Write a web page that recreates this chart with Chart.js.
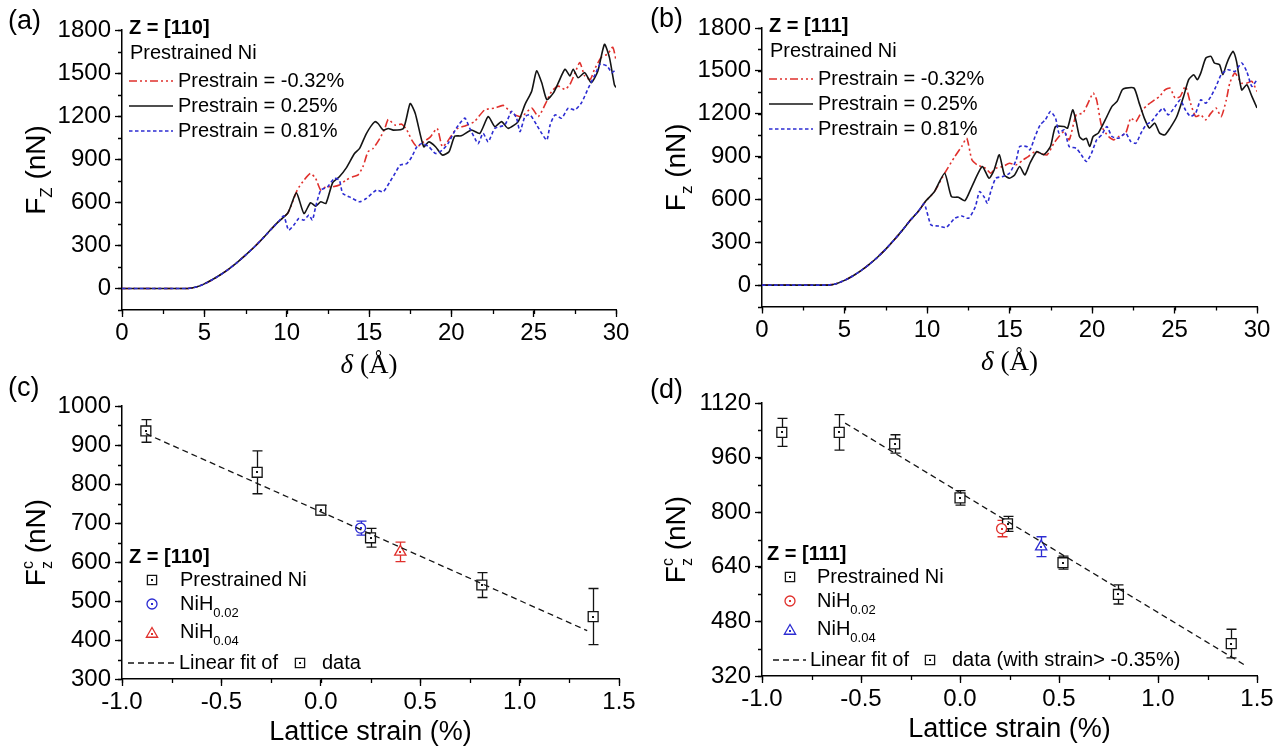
<!DOCTYPE html>
<html>
<head>
<meta charset="utf-8">
<script src="https://cdn.jsdelivr.net/npm/chart.js@4.4.1/dist/chart.umd.min.js"></script>
<style>
  body { margin: 0; background: #fff; width: 1286px; height: 752px; overflow: hidden; position: relative; }
  canvas { position: absolute; }
</style>
</head>
<body>
<canvas id="ca" width="643" height="390" style="left:0;top:0"></canvas>
<canvas id="cb" width="643" height="390" style="left:643px;top:0"></canvas>
<canvas id="cc" width="643" height="382" style="left:0;top:370px"></canvas>
<canvas id="cd" width="643" height="382" style="left:643px;top:370px"></canvas>
<script>
// ---- data: panel (a), Z = [110] ----
const prestrains = ['-0.32%', '0.25%', '0.81%'];

const rampXa = [0, 1, 2, 3, 4, 4.5, 5, 5.5, 6, 6.5, 7, 7.5, 8, 8.5, 9, 9.5];
const rampYa = [0, 0, 0, 0, 0, 10, 32, 62, 97, 137, 182, 232, 285, 343, 405, 465];

const redXa = [10.08, 10.64, 11.05, 11.45, 11.76, 12.07, 12.38, 12.79, 13.2, 13.6, 14.02, 14.32, 14.63, 14.94, 15.25, 15.66, 15.96, 16.17, 16.58, 16.99, 17.3, 17.6, 17.91, 18.32, 18.73, 19.14, 19.45, 19.75, 20.16, 20.4, 20.9, 21.4, 22.03, 22.64, 23.15, 23.56, 23.86, 24.27, 24.88, 25.28, 25.69, 26.1, 26.5, 26.9, 27.2, 27.52, 27.8, 28.1, 28.43, 28.7, 29.1, 29.5, 29.8, 30.0];
const redYa = [527, 685, 754, 801, 766, 685, 708, 708, 720, 754, 778, 789, 847, 952, 975, 1045, 1114, 1177, 1138, 1144, 1103, 1033, 987, 1021, 1056, 1114, 987, 1021, 1091, 1115, 1135, 1162, 1244, 1256, 1275, 1233, 1209, 1197, 1256, 1197, 1280, 1374, 1409, 1386, 1421, 1503, 1574, 1480, 1456, 1527, 1609, 1633, 1680, 1590];

const blackXa = [10.08, 10.59, 11.05, 11.45, 11.76, 12.07, 12.38, 12.79, 13.2, 13.6, 14.12, 14.43, 14.84, 15.35, 15.55, 15.86, 16.17, 16.48, 17.09, 17.5, 17.81, 18.32, 18.63, 19.04, 19.45, 19.86, 20.2, 20.6, 21.22, 21.73, 22.24, 22.64, 23.05, 23.45, 24.06, 24.47, 24.88, 25.18, 25.49, 25.8, 26.2, 26.5, 26.9, 27.2, 27.4, 27.7, 28.1, 28.5, 28.9, 29.3, 29.6, 29.9, 30.0];
const blackYa = [527, 666, 522, 597, 573, 604, 592, 736, 778, 836, 940, 975, 1079, 1161, 1149, 1103, 1114, 1103, 1114, 1288, 1219, 987, 1021, 987, 929, 952, 1060, 1063, 1103, 1080, 1197, 1127, 1162, 1115, 1162, 1280, 1374, 1515, 1433, 1315, 1362, 1433, 1527, 1480, 1527, 1468, 1503, 1433, 1515, 1700, 1609, 1420, 1400];

const blueXa = [9.82, 10.12, 10.43, 10.74, 11.05, 11.35, 11.56, 11.76, 12.07, 12.48, 12.89, 13.2, 13.4, 13.81, 14.43, 14.84, 15.45, 15.86, 16.27, 16.58, 16.89, 17.3, 17.6, 17.91, 18.22, 18.63, 19.04, 19.45, 19.8, 20.3, 20.82, 21.12, 21.43, 21.63, 21.93, 22.24, 22.64, 23.25, 23.66, 23.96, 24.17, 24.47, 24.78, 25.18, 25.49, 25.8, 26.0, 26.3, 26.7, 27.1, 27.5, 27.9, 28.33, 28.74, 29.04, 29.45, 29.76, 30.0];
const blueYa = [505, 406, 441, 487, 476, 511, 476, 569, 685, 708, 766, 754, 662, 638, 604, 627, 685, 673, 743, 801, 859, 870, 917, 987, 1010, 987, 940, 963, 1010, 1115, 1186, 1115, 1045, 1009, 1080, 1021, 1115, 1139, 1233, 1186, 1092, 1197, 1209, 1139, 1080, 1033, 1139, 1209, 1186, 1256, 1244, 1292, 1398, 1492, 1562, 1550, 1503, 1527];

// ---- data: panel (b), Z = [111] ----
const rampXb = [0, 1, 2, 3, 4, 4.5, 5, 5.5, 6, 6.5, 7, 7.5, 8, 8.5, 9, 9.5];
const rampYb = [0, 0, 0, 0, 0, 10, 33, 64, 101, 145, 195, 252, 315, 383, 455, 520];

const redXb = [9.9, 10.45, 11.07, 11.69, 12.1, 12.41, 12.72, 13.04, 13.55, 13.86, 14.17, 14.59, 15.0, 15.41, 15.83, 16.14, 16.55, 16.86, 17.28, 17.69, 18.0, 18.31, 18.62, 19.04, 19.45, 19.76, 20.07, 20.28, 20.59, 21.0, 21.31, 21.62, 22.04, 22.35, 22.66, 23.07, 23.38, 23.8, 24.1, 24.42, 24.73, 25.04, 25.35, 25.66, 25.97, 26.28, 26.59, 26.9, 27.21, 27.52, 27.83, 28.14, 28.35, 28.66, 29.07, 29.38, 29.69, 30.0];
const redYb = [585, 654, 783, 900, 970, 1028, 877, 842, 818, 783, 818, 830, 853, 842, 877, 900, 935, 923, 912, 993, 1040, 1075, 1017, 1192, 1204, 1274, 1344, 1297, 1110, 1040, 1017, 1040, 1064, 1169, 1145, 1227, 1262, 1297, 1321, 1367, 1379, 1309, 1321, 1391, 1274, 1180, 1192, 1157, 1204, 1239, 1180, 1297, 1414, 1484, 1414, 1414, 1426, 1356];

const blackXb = [9.9, 10.45, 11.07, 11.48, 11.9, 12.3, 12.72, 13.35, 13.76, 14.07, 14.38, 14.69, 15.0, 15.31, 15.62, 15.93, 16.24, 16.66, 17.07, 17.48, 17.79, 18.31, 18.52, 18.83, 19.04, 19.24, 19.45, 19.66, 19.86, 20.07, 20.38, 20.9, 21.21, 21.52, 21.83, 22.04, 22.55, 22.86, 23.17, 23.48, 23.8, 24.1, 24.42, 24.73, 25.14, 25.55, 25.86, 26.17, 26.38, 26.59, 26.9, 27.21, 27.42, 27.73, 27.93, 28.14, 28.35, 28.55, 28.76, 29.07, 29.38, 29.69, 30.0];
const blackYb = [585, 654, 783, 619, 615, 591, 690, 830, 748, 806, 912, 771, 748, 771, 830, 771, 853, 935, 912, 970, 1110, 1110, 1099, 1227, 1145, 1040, 1017, 1028, 970, 1040, 1064, 1180, 1251, 1286, 1367, 1379, 1379, 1274, 1169, 1099, 1134, 1064, 1052, 1099, 1180, 1321, 1438, 1473, 1438, 1484, 1590, 1601, 1555, 1543, 1473, 1543, 1601, 1636, 1566, 1367, 1403, 1321, 1240];

const blueXb = [9.83, 10.24, 10.66, 11.17, 11.69, 12.1, 12.52, 12.93, 13.18, 13.45, 13.66, 13.86, 14.17, 14.59, 15.0, 15.41, 15.62, 16.04, 16.24, 16.55, 16.86, 17.17, 17.48, 17.79, 18.0, 18.31, 18.62, 19.04, 19.35, 19.66, 19.97, 20.28, 20.59, 20.9, 21.21, 21.62, 22.04, 22.35, 22.66, 22.97, 23.28, 23.59, 24.0, 24.31, 24.62, 25.04, 25.35, 25.66, 25.97, 26.28, 26.59, 26.9, 27.21, 27.52, 27.83, 28.24, 28.66, 29.07, 29.38, 29.69, 30.0];
const blueYb = [570, 421, 414, 404, 468, 484, 468, 549, 654, 619, 573, 654, 748, 760, 783, 877, 970, 970, 947, 1040, 1122, 1157, 1215, 1169, 1064, 1087, 970, 958, 912, 865, 923, 1017, 1052, 1110, 1040, 1028, 1064, 1005, 993, 1064, 1122, 1145, 1204, 1239, 1192, 1251, 1297, 1227, 1180, 1204, 1297, 1274, 1321, 1391, 1473, 1508, 1496, 1555, 1496, 1391, 1438];

// ---- data: panel (c), critical force vs strain, Z = [110] ----
const strainC = [-0.88, -0.32, 0.0, 0.25, 0.81, 1.37];
const forceC = [936, 830, 733, 662, 541, 460];
const errC = [29, 55, 12, 24, 32, 72];
const h002C = { x: [0.20], y: [687], e: [18] };
const h004C = { x: [0.40], y: [626], e: [25] };
const fitXC = [-0.88, 1.34];
const fitYC = [929, 424];

// ---- data: panel (d), Z = [111] ----
const strainD = [-0.9, -0.61, -0.33, 0.0, 0.24, 0.52, 0.80, 1.37];
const forceD = [1034, 1034, 1000, 842, 766, 652, 559, 415];
const errD = [41, 52, 27, 21, 22, 19, 28, 42];
const h002D = { x: [0.21], y: [752], e: [24] };
const h004D = { x: [0.41], y: [699], e: [29] };
const fitXD = [-0.58, 1.45];
const fitYD = [1061, 348];

const RED = '#e0302c', BLUE = '#2c2cd2', BLACK = '#141414';
const SANS = "'Liberation Sans', Arial, sans-serif";
const SERIF = "'Liberation Serif', 'Times New Roman', serif";
Chart.defaults.font.family = SANS;
Chart.defaults.color = '#000';

function pts(xs, ys) { return xs.map((x, i) => ({ x: x, y: ys[i] })); }

// short ticks between the labelled ones
const minorTicks = {
  id: 'minorTicks',
  afterDraw(chart, args, opts) {
    if (!opts || !opts.x) return;
    const ctx = chart.ctx, a = chart.chartArea, xs = chart.scales.x, ys = chart.scales.y;
    ctx.save();
    ctx.strokeStyle = '#000';
    ctx.lineWidth = 1.3;
    ctx.beginPath();
    for (let v = xs.min; v <= xs.max + 1e-6; v += opts.x) {
      const p = Math.round(xs.getPixelForValue(v)) + 0.5;
      ctx.moveTo(p, a.bottom); ctx.lineTo(p, a.bottom + 4);
    }
    for (let v = ys.min; v <= ys.max + 1e-6; v += opts.y) {
      const p = Math.round(ys.getPixelForValue(v)) + 0.5;
      ctx.moveTo(a.left, p); ctx.lineTo(a.left - 4, p);
    }
    ctx.stroke();
    ctx.restore();
  }
};

// error bars under the markers, small dots in their centres
const errorBars = {
  id: 'errorBars',
  beforeDatasetsDraw(chart) {
    const ctx = chart.ctx, xs = chart.scales.x, ys = chart.scales.y;
    chart.data.datasets.forEach(ds => {
      if (!ds.errors) return;
      ctx.save();
      ctx.strokeStyle = ds.borderColor;
      ctx.lineWidth = 1.3;
      ctx.beginPath();
      ds.data.forEach((p, i) => {
        const px = Math.round(xs.getPixelForValue(p.x)) + 0.5;
        const t = ys.getPixelForValue(p.y + ds.errors[i]);
        const b = ys.getPixelForValue(p.y - ds.errors[i]);
        ctx.moveTo(px, t); ctx.lineTo(px, b);
        ctx.moveTo(px - 5, t); ctx.lineTo(px + 5, t);
        ctx.moveTo(px - 5, b); ctx.lineTo(px + 5, b);
      });
      ctx.stroke();
      ctx.restore();
    });
  },
  afterDatasetsDraw(chart) {
    const ctx = chart.ctx, xs = chart.scales.x, ys = chart.scales.y;
    chart.data.datasets.forEach(ds => {
      if (!ds.errors) return;
      ctx.fillStyle = ds.borderColor;
      ds.data.forEach(p => {
        ctx.fillRect(Math.round(xs.getPixelForValue(p.x)) - 1, Math.round(ys.getPixelForValue(p.y)) - 1, 2, 2);
      });
    });
  }
};
Chart.register(minorTicks, errorBars);

function scales(ax) {
  const tf = { size: 24, family: SANS };
  return {
    x: {
      type: 'linear', position: 'bottom', min: ax.xMin, max: ax.xMax,
      border: { display: true, color: '#000', width: 1.5 },
      grid: { drawOnChartArea: false, drawTicks: true, tickLength: 7, color: '#000', tickWidth: 1.3 },
      ticks: { stepSize: ax.xStep, includeBounds: false, autoSkip: false, maxRotation: 0, font: tf, color: '#000', padding: 2, callback: ax.xFmt },
      afterFit: s => { s.height = ax.xH; s.paddingLeft = 0; s.paddingRight = 0; }
    },
    y: {
      type: 'linear', position: 'left', min: ax.yMin, max: ax.yMax,
      border: { display: true, color: '#000', width: 1.5 },
      grid: { drawOnChartArea: false, drawTicks: true, tickLength: 7, color: '#000', tickWidth: 1.3 },
      ticks: { stepSize: ax.yStep, includeBounds: false, autoSkip: false, font: tf, color: '#000', padding: 4, callback: v => String(v) },
      afterFit: s => { s.width = ax.yW; s.paddingTop = 0; s.paddingBottom = 0; }
    }
  };
}

function options(ax) {
  return {
    responsive: false, animation: false, events: [],
    layout: { padding: { top: ax.T, right: ax.R, left: 0, bottom: 0 } },
    plugins: { legend: { display: false }, tooltip: { enabled: false }, minorTicks: { x: ax.xMinor, y: ax.yMinor } },
    scales: scales(ax)
  };
}

// ---- text helpers ----
function txt(ctx, s, x, y, size, opt) {
  opt = opt || {};
  ctx.font = (opt.style || '') + ' ' + (opt.weight || '') + ' ' + size + 'px ' + (opt.family || SANS);
  ctx.fillStyle = opt.color || '#000';
  ctx.textAlign = opt.align || 'left';
  ctx.textBaseline = opt.base || 'middle';
  ctx.fillText(s, x, y);
  return ctx.measureText(s).width;
}

// rotated y title made of pieces: {t, size, dy, keep}
function yTitle(ctx, cx, cy, parts) {
  ctx.save();
  ctx.translate(cx, cy);
  ctx.rotate(-Math.PI / 2);
  let w = 0;
  parts.forEach(p => { ctx.font = p.size + 'px ' + SANS; if (!p.keep) w += ctx.measureText(p.t).width; });
  let x = -w / 2;
  parts.forEach(p => {
    const pw = txt(ctx, p.t, x, 9 + (p.dy || 0), p.size, { base: 'alphabetic' });
    if (!p.keep) x += pw;
  });
  ctx.restore();
}

function deltaTitle(ctx, cx, cy) {
  ctx.font = 'italic 27px ' + SERIF;
  const w1 = ctx.measureText('\u03B4').width;
  ctx.font = '27px ' + SERIF;
  const w2 = ctx.measureText(' (\u00C5)').width;
  const x0 = cx - (w1 + w2) / 2;
  txt(ctx, '\u03B4', x0, cy, 27, { style: 'italic', family: SERIF });
  txt(ctx, ' (\u00C5)', x0 + w1, cy, 27, { family: SERIF });
}

function lineSample(ctx, x1, x2, y, color, dash, w) {
  ctx.save();
  ctx.strokeStyle = color;
  ctx.lineWidth = w;
  ctx.setLineDash(dash);
  ctx.beginPath();
  ctx.moveTo(x1, y); ctx.lineTo(x2, y);
  ctx.stroke();
  ctx.restore();
}

function marker(ctx, style, x, y, r, color) {
  ctx.save();
  ctx.strokeStyle = color;
  ctx.fillStyle = '#fff';
  ctx.lineWidth = 1.3;
  ctx.beginPath();
  if (style === 'rect') {
    const s = r * Math.SQRT1_2;
    ctx.rect(x - s, y - s, 2 * s, 2 * s);
  } else if (style === 'circle') {
    ctx.arc(x, y, r, 0, Math.PI * 2);
  } else {
    let a = 0;
    ctx.moveTo(x + Math.sin(a) * r, y - Math.cos(a) * r);
    a += 2 * Math.PI / 3; ctx.lineTo(x + Math.sin(a) * r, y - Math.cos(a) * r);
    a += 2 * Math.PI / 3; ctx.lineTo(x + Math.sin(a) * r, y - Math.cos(a) * r);
    ctx.closePath();
  }
  ctx.fill(); ctx.stroke();
  ctx.fillStyle = color;
  ctx.fillRect(Math.round(x) - 1, Math.round(y) - 1, 2, 2);
  ctx.restore();
}

const RED_DASH = [8, 3, 2, 3, 2, 3];
const BLUE_DASH = [3.5, 2.5];

function curveLegend(ctx, L, T, head) {
  txt(ctx, head, L + 7, T - 2, 20, { weight: 'bold' });
  txt(ctx, 'Prestrained Ni', L + 8, T + 23, 20);
  const cols = [RED, BLACK, BLUE], dashes = [RED_DASH, [], BLUE_DASH];
  prestrains.forEach((p, i) => {
    const y = T + 51 + i * 25;
    lineSample(ctx, L + 7, L + 51, y, cols[i], dashes[i], 1.6);
    txt(ctx, 'Prestrain = ' + p, L + 56, y, 20);
  });
}

function nih(ctx, x, y, sub) {
  const w = txt(ctx, 'NiH', x, y, 20);
  txt(ctx, sub, x + w, y + 9, 13);
}

function strainLegend(ctx, L, T, g) {
  txt(ctx, g.head, L + g.hx, T + 151, 20, { weight: 'bold' });
  marker(ctx, 'rect', L + g.mx, T + 174, 6.5, BLACK);
  txt(ctx, 'Prestrained Ni', L + g.tx, T + 174, 20);
  marker(ctx, 'circle', L + g.mx, T + 198, 5, g.c2);
  nih(ctx, L + g.tx, T + 198, '0.02');
  marker(ctx, 'triangle', L + g.mx, T + 228, 6.5, g.c4);
  nih(ctx, L + g.tx, T + 226, '0.04');
  lineSample(ctx, L + g.d1, L + g.d2, T + 257, BLACK, [6, 4], 1.3);
  txt(ctx, 'Linear fit of', L + g.fx, T + 257, 20);
  marker(ctx, 'rect', L + g.sx, T + 257, 6.5, BLACK);
  txt(ctx, g.tail, L + g.sx + 22, T + 257, 20);
}

// ---- panel (a) ----
new Chart(document.getElementById('ca'), {
  type: 'scatter',
  data: {
    datasets: [
      { label: 'Prestrain = ' + prestrains[2], data: pts(rampXa.concat(blueXa), rampYa.concat(blueYa)), showLine: true, borderColor: BLUE, borderWidth: 1.6, borderDash: BLUE_DASH, pointRadius: 0, tension: 0.2 },
      { label: 'Prestrain = ' + prestrains[1], data: pts(rampXa.concat(blackXa), rampYa.concat(blackYa)), showLine: true, borderColor: BLACK, borderWidth: 1.6, pointRadius: 0, tension: 0.2 },
      { label: 'Prestrain = ' + prestrains[0], data: pts(rampXa.concat(redXa), rampYa.concat(redYa)), showLine: true, borderColor: RED, borderWidth: 1.6, borderDash: RED_DASH, pointRadius: 0, tension: 0.2 }
    ]
  },
  options: options({ xMin: 0, xMax: 30, xStep: 5, xMinor: 2.5, yMin: -150, yMax: 1800, yStep: 300, yMinor: 150, T: 30, R: 27, xH: 80, yW: 122 }),
  plugins: [{
    id: 'decoA',
    afterDraw(chart) {
      const c = chart.ctx, a = chart.chartArea;
      txt(c, '(a)', 8, 22, 27);
      yTitle(c, a.left - 86, (a.top + a.bottom) / 2, [{ t: 'F', size: 28 }, { t: 'Z', size: 17, dy: 7 }, { t: ' (nN)', size: 28 }]);
      deltaTitle(c, (a.left + a.right) / 2, a.bottom + 56);
      curveLegend(c, a.left, a.top, 'Z = [110]');
    }
  }]
});

// ---- panel (b) ----
new Chart(document.getElementById('cb'), {
  type: 'scatter',
  data: {
    datasets: [
      { label: 'Prestrain = ' + prestrains[2], data: pts(rampXb.concat(blueXb), rampYb.concat(blueYb)), showLine: true, borderColor: BLUE, borderWidth: 1.6, borderDash: BLUE_DASH, pointRadius: 0, tension: 0.2 },
      { label: 'Prestrain = ' + prestrains[1], data: pts(rampXb.concat(blackXb), rampYb.concat(blackYb)), showLine: true, borderColor: BLACK, borderWidth: 1.6, pointRadius: 0, tension: 0.2 },
      { label: 'Prestrain = ' + prestrains[0], data: pts(rampXb.concat(redXb), rampYb.concat(redYb)), showLine: true, borderColor: RED, borderWidth: 1.6, borderDash: RED_DASH, pointRadius: 0, tension: 0.2 }
    ]
  },
  options: options({ xMin: 0, xMax: 30, xStep: 5, xMinor: 2.5, yMin: -150, yMax: 1800, yStep: 300, yMinor: 150, T: 28, R: 29, xH: 83.5, yW: 119 }),
  plugins: [{
    id: 'decoB',
    afterDraw(chart) {
      const c = chart.ctx, a = chart.chartArea;
      txt(c, '(b)', 7, 20, 27);
      yTitle(c, a.left - 86, (a.top + a.bottom) / 2, [{ t: 'F', size: 28 }, { t: 'z', size: 17, dy: 7 }, { t: ' (nN)', size: 28 }]);
      deltaTitle(c, (a.left + a.right) / 2, a.bottom + 56);
      curveLegend(c, a.left, a.top, 'Z = [111]');
    }
  }]
});

function strainDatasets(sx, sy, se, h2, h4, c2, c4, fx, fy) {
  return [
    { label: 'Linear fit', data: pts(fx, fy), showLine: true, borderColor: BLACK, borderWidth: 1.3, borderDash: [6, 4], pointRadius: 0 },
    { label: 'NiH0.04', data: pts(h4.x, h4.y), errors: h4.e, borderColor: c4, pointStyle: 'triangle', pointRadius: 6.5, pointBorderWidth: 1.3, pointBorderColor: c4, pointBackgroundColor: '#fff' },
    { label: 'NiH0.02', data: pts(h2.x, h2.y), errors: h2.e, borderColor: c2, pointStyle: 'circle', pointRadius: 5, pointBorderWidth: 1.3, pointBorderColor: c2, pointBackgroundColor: '#fff' },
    { label: 'Prestrained Ni', data: pts(sx, sy), errors: se, borderColor: BLACK, pointStyle: 'rect', pointRadius: 7, pointBorderWidth: 1.3, pointBorderColor: BLACK, pointBackgroundColor: '#fff' }
  ];
}

const fmt1 = v => v.toFixed(1);

// ---- panel (c) ----
new Chart(document.getElementById('cc'), {
  type: 'scatter',
  data: { datasets: strainDatasets(strainC, forceC, errC, h002C, h004C, BLUE, RED, fitXC, fitYC) },
  options: options({ xMin: -1, xMax: 1.5, xStep: 0.5, xMinor: 0.25, xFmt: fmt1, yMin: 300, yMax: 1000, yStep: 100, yMinor: 50, T: 36, R: 24, xH: 73, yW: 122 }),
  plugins: [{
    id: 'decoC',
    afterDraw(chart) {
      const c = chart.ctx, a = chart.chartArea;
      txt(c, '(c)', 8, 19, 27);
      yTitle(c, a.left - 86, (a.top + a.bottom) / 2, [{ t: 'F', size: 28 }, { t: 'z', size: 16, dy: 7, keep: true }, { t: 'c', size: 16, dy: -12 }, { t: ' (nN)', size: 28 }]);
      txt(c, 'Lattice strain (%)', (a.left + a.right) / 2, a.bottom + 54, 27, { align: 'center' });
      strainLegend(c, a.left, a.top, { head: 'Z = [110]', hx: 7, mx: 30, tx: 58, c2: BLUE, c4: RED, d1: 6, d2: 53, fx: 57, sx: 178, tail: 'data' });
    }
  }]
});

// ---- panel (d) ----
new Chart(document.getElementById('cd'), {
  type: 'scatter',
  data: { datasets: strainDatasets(strainD, forceD, errD, h002D, h004D, RED, BLUE, fitXD, fitYD) },
  options: options({ xMin: -1, xMax: 1.5, xStep: 0.5, xMinor: 0.25, xFmt: fmt1, yMin: 320, yMax: 1120, yStep: 160, yMinor: 80, T: 33, R: 29, xH: 76, yW: 119 }),
  plugins: [{
    id: 'decoD',
    afterDraw(chart) {
      const c = chart.ctx, a = chart.chartArea;
      txt(c, '(d)', 7, 21, 27);
      yTitle(c, a.left - 86, (a.top + a.bottom) / 2, [{ t: 'F', size: 28 }, { t: 'z', size: 16, dy: 7, keep: true }, { t: 'c', size: 16, dy: -12 }, { t: ' (nN)', size: 28 }]);
      txt(c, 'Lattice strain (%)', (a.left + a.right) / 2, a.bottom + 54, 27, { align: 'center' });
      strainLegend(c, a.left, a.top, { head: 'Z = [111]', hx: 5, mx: 28, tx: 55, c2: RED, c4: BLUE, d1: 11, d2: 44, fx: 48, sx: 168, tail: 'data (with strain> -0.35%)' });
    }
  }]
});
</script>
</body>
</html>
